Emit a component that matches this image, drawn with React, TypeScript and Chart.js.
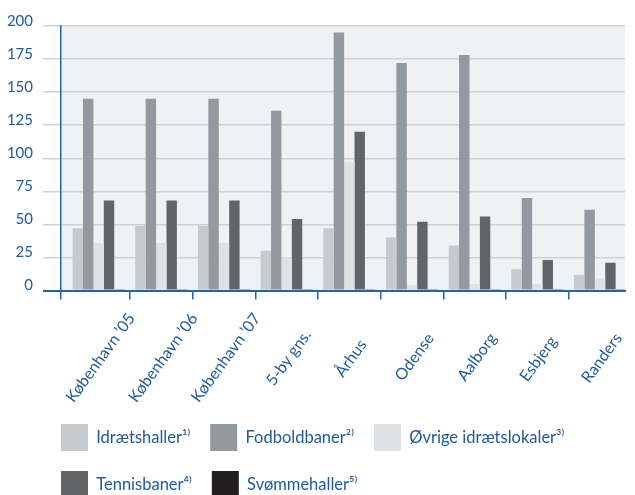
import React, { useEffect, useRef } from 'react';
import { Chart, registerables } from 'chart.js';

Chart.register(...registerables);

// ---- data ----
const categories = [
  'København ’05',
  'København ’06',
  'København ’07',
  '5-by gns.',
  'Århus',
  'Odense',
  'Aalborg',
  'Esbjerg',
  'Randers',
];
const idraetshaller = [47, 49, 49, 30, 47, 40, 34, 16, 12];
const fodboldbaner = [145, 145, 145, 136, 195, 172, 178, 70, 61];
const oevrigeIdraetslokaler = [36, 36, 36, 25, 97, 4, 5, 5, 9];
const tennisbaner = [68, 68, 68, 54, 120, 52, 56, 23, 21];
const svoemmehaller = [1, 0.5, 0.5, 1, 1, 1, 1, 1, 1];
const seriesLabels = [
  'Idrætshaller¹⁾',
  'Fodboldbaner²⁾',
  'Øvrige idrætslokaler³⁾',
  'Tennisbaner⁴⁾',
  'Svømmehaller⁵⁾',
];
const yTicks = [0, 25, 50, 75, 100, 125, 150, 175, 200];

// ---- styles ----
const seriesColors = ['#c6cacd', '#93999e', '#dfe2e4', '#636466', '#231f20'];
const TEXT_BLUE = '#1f5b97';
const AXIS_BLUE = '#2a62a0';
const GRID = '#cfd1d3';
const BG = '#eff1f3';
const FONT = 'Lato';
const X_FONT_SIZE = 16;
const LEGEND_PAD = 20;

const plotBg = {
  id: 'plotBg',
  beforeDraw(chart: any) {
    const { ctx, chartArea: a } = chart;
    ctx.save();
    ctx.fillStyle = BG;
    ctx.fillRect(a.left, a.top, a.right - a.left, a.bottom - a.top);
    ctx.restore();
  },
};

// align the legend's first column with the plot's left edge
const legendAlign = {
  id: 'legendAlign',
  afterLayout(chart: any) {
    if (chart.legend) chart.legend.left = chart.chartArea.left - LEGEND_PAD;
  },
};

export default function App() {
  const ref = useRef<HTMLCanvasElement | null>(null);

  useEffect(() => {
    const canvas = ref.current;
    if (!canvas) return;

    // pad labels so the rotated labels are centred on a common point
    const m = document.createElement('canvas').getContext('2d')!;
    m.font = `${X_FONT_SIZE}px ${FONT}`;
    const widths = categories.map((c) => m.measureText(c).width);
    const wMax = Math.max(...widths);
    const sp = m.measureText(' ').width;
    const padded = categories.map(
      (c, i) => c + ' '.repeat(Math.max(0, Math.round((wMax - widths[i]) / 2 / sp)))
    );

    const series = [idraetshaller, fodboldbaner, oevrigeIdraetslokaler, tennisbaner, svoemmehaller];
    const xMin = -0.6;
    const xMax = 8.4;

    const chart = new Chart(canvas, {
      type: 'bar',
      data: {
        datasets: series.map((vals, k) => ({
          label: seriesLabels[k],
          data: vals.map((v, i) => ({ x: i, y: v })),
          backgroundColor: seriesColors[k],
          borderWidth: 0,
          categoryPercentage: 0.83,
          barPercentage: 1,
        })),
      },
      options: {
        animation: false,
        responsive: false,
        layout: { padding: { left: 0, top: 26, right: 0, bottom: 0 } },
        plugins: {
          tooltip: { enabled: false },
          legend: {
            position: 'bottom',
            align: 'start',
            labels: {
              boxWidth: 27,
              boxHeight: 27,
              padding: LEGEND_PAD,
              color: TEXT_BLUE,
              font: { family: FONT, size: 16.5 },
            },
          },
        },
        scales: {
          x: {
            type: 'linear',
            position: 'bottom',
            weight: 1,
            offset: false,
            min: xMin,
            max: xMax,
            afterBuildTicks: (s: any) => {
              s.ticks = categories.map((_, i) => ({ value: i }));
            },
            afterFit: (s: any) => {
              s.height = 113.5;
            },
            grid: { display: false, drawTicks: false, offset: false },
            border: { display: true, color: AXIS_BLUE, width: 2, z: 1 },
            ticks: {
              autoSkip: false,
              minRotation: 54,
              maxRotation: 54,
              padding: 19,
              labelOffset: 33,
              color: TEXT_BLUE,
              font: { family: FONT, size: X_FONT_SIZE },
              callback: (_v: any, i: number) => padded[i],
            },
          },
          x2: {
            type: 'linear',
            position: 'bottom',
            weight: 0,
            offset: false,
            min: xMin,
            max: xMax,
            afterBuildTicks: (s: any) => {
              s.ticks = [s.min, ...categories.slice(1).map((_, i) => i + 0.5)].map((v) => ({ value: v }));
            },
            afterFit: (s: any) => {
              s.height = 0;
            },
            grid: { drawOnChartArea: false, tickLength: 9, color: AXIS_BLUE, lineWidth: 1.5, offset: false },
            border: { display: false },
            ticks: { display: false },
          },
          y: {
            min: 0,
            max: 200,
            afterBuildTicks: (s: any) => {
              s.ticks = yTicks.map((v) => ({ value: v }));
            },
            afterFit: (s: any) => {
              s.width = 61;
            },
            grid: {
              color: (c: any) => (c.tick && c.tick.value === 0 ? AXIS_BLUE : GRID),
              lineWidth: (c: any) => (c.tick && c.tick.value === 0 ? 2 : 1.5),
              tickLength: 18,
            },
            border: { color: AXIS_BLUE, width: 1.5 },
            ticks: { color: TEXT_BLUE, font: { family: FONT, size: 15 }, padding: 10, labelOffset: -5 },
          },
        },
      } as any,
      plugins: [plotBg, legendAlign],
    });

    return () => chart.destroy();
  }, []);

  return (
    <div style={{ position: 'fixed', left: 0, top: 0, width: 635, height: 508 }}>
      <canvas ref={ref} width={635} height={508} style={{ display: 'block' }} />
    </div>
  );
}
